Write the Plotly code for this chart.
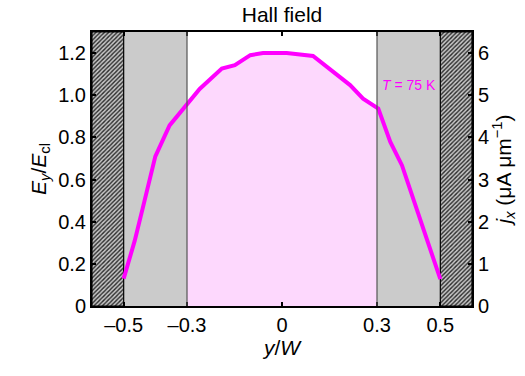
import numpy as np
import plotly.graph_objects as go

# Data
y_over_w = [-0.5, -0.465, -0.434, -0.40, -0.355, -0.30, -0.26, -0.19, -0.149, -0.10,
            -0.06, 0.0, 0.015, 0.098, 0.12, 0.16, 0.215, 0.256, 0.304, 0.342, 0.379, 0.5]
e_ratio = [0.13, 0.31, 0.50, 0.71, 0.857, 0.96, 1.03, 1.127, 1.143, 1.19,
           1.20, 1.20, 1.20, 1.186, 1.159, 1.11, 1.048, 0.984, 0.937, 0.778, 0.667, 0.127]
x_ticks = [-0.5, -0.3, 0, 0.3, 0.5]
x_ticklabels = ["\u20130.5", "\u20130.3", "0", "0.3", "0.5"]
y_ticks = [0, 0.2, 0.4, 0.6, 0.8, 1.0, 1.2]
y_ticklabels = ["0", "0.2", "0.4", "0.6", "0.8", "1.0", "1.2"]
y2_ticks = [0, 1, 2, 3, 4, 5, 6]
j_per_e = 5.0  # conversion factor between axes

X_MAX = 0.6
X_EDGE = 0.5
X_INNER = 0.3
Y_MAX = 1.3

FONT = "Liberation Sans, Arial, sans-serif"
MAGENTA = "#FF00FF"
FS = 20

fig = go.Figure()

# Hatched regions beyond the sample edges
for sgn in (-1, 1):
    xs = [sgn * X_EDGE, sgn * X_MAX, sgn * X_MAX, sgn * X_EDGE, sgn * X_EDGE]
    ys = [0, 0, Y_MAX, Y_MAX, 0]
    fig.add_trace(go.Scatter(
        x=xs, y=ys, fill="toself", mode="lines",
        line=dict(color="black", width=1.2),
        fillcolor="#c8c8c8",
        fillpattern=dict(shape="/", fgcolor="#2a2a2a", bgcolor="#c8c8c8",
                         size=3, solidity=0.45, fillmode="replace"),
        hoverinfo="skip", showlegend=False))

# Pink fill under the curve for the central region
xa = np.array(y_over_w)
ea = np.array(e_ratio)
mask = (xa > -X_INNER) & (xa < X_INNER)
fx = np.concatenate(([-X_INNER], xa[mask], [X_INNER]))
fy = np.concatenate(([np.interp(-X_INNER, xa, ea)], ea[mask], [np.interp(X_INNER, xa, ea)]))
fig.add_trace(go.Scatter(x=fx, y=fy, fill="tozeroy", mode="none",
                         fillcolor="#FDD8FD", hoverinfo="skip", showlegend=False))

# Main curve
fig.add_trace(go.Scatter(x=y_over_w, y=e_ratio, mode="lines",
                         line=dict(color=MAGENTA, width=4),
                         showlegend=False))

# Invisible trace on the right axis (current density)
fig.add_trace(go.Scatter(x=y_over_w, y=[v * j_per_e for v in e_ratio], yaxis="y2",
                         mode="lines", line=dict(width=0, color="rgba(0,0,0,0)"),
                         hoverinfo="skip", showlegend=False))

shapes = []
for sgn in (-1, 1):
    x0, x1 = sorted([sgn * X_INNER, sgn * X_EDGE])
    shapes.append(dict(type="rect", xref="x", yref="y", x0=x0, x1=x1, y0=0, y1=Y_MAX,
                       fillcolor="#CBCBCB", line=dict(width=0), layer="below"))
    shapes.append(dict(type="line", xref="x", yref="y", x0=sgn * X_INNER, x1=sgn * X_INNER,
                       y0=0, y1=Y_MAX, line=dict(color="#555555", width=1.2), layer="above"))

axis_common = dict(ticks="inside", ticklen=4, tickwidth=1.5, tickcolor="black",
                   showline=True, linecolor="black", linewidth=2, showgrid=False,
                   zeroline=False, tickfont=dict(family=FONT, size=FS, color="black"))
title_font = dict(family=FONT, size=21, color="black")

fig.update_layout(
    width=525, height=376,
    margin=dict(l=92, r=53, t=32, b=70),
    paper_bgcolor="white", plot_bgcolor="white",
    shapes=shapes,
    title=dict(text="Hall field", x=0.5, xanchor="center", y=0.98, yanchor="top",
               xref="paper", font=dict(family=FONT, size=21, color="black")),
    xaxis=dict(range=[-X_MAX, X_MAX], tickvals=x_ticks, ticktext=x_ticklabels,
               mirror="ticks",
               title=dict(text="<i>y</i>/<i>W</i>", font=title_font, standoff=0),
               **axis_common),
    yaxis=dict(range=[0, Y_MAX], tickvals=y_ticks, ticktext=y_ticklabels,
               title=dict(text="<i>E</i><sub><i>y</i></sub>/<i>E</i><sub>cl</sub>",
                          font=title_font, standoff=6),
               **axis_common),
    yaxis2=dict(range=[0, Y_MAX * j_per_e], tickvals=y2_ticks, overlaying="y", side="right",
                title=dict(text="<i>j</i><sub><i>x</i></sub> (μA μm<sup>−1</sup>)",
                           font=title_font, standoff=6),
                **axis_common),
    annotations=[dict(x=X_INNER + 0.01, y=1.05, xref="x", yref="y",
                      text="<i>T</i> = 75 K", showarrow=False, xanchor="left",
                      yanchor="middle",
                      font=dict(family=FONT, size=14, color=MAGENTA))],
)

fig.write_html("out.html")
